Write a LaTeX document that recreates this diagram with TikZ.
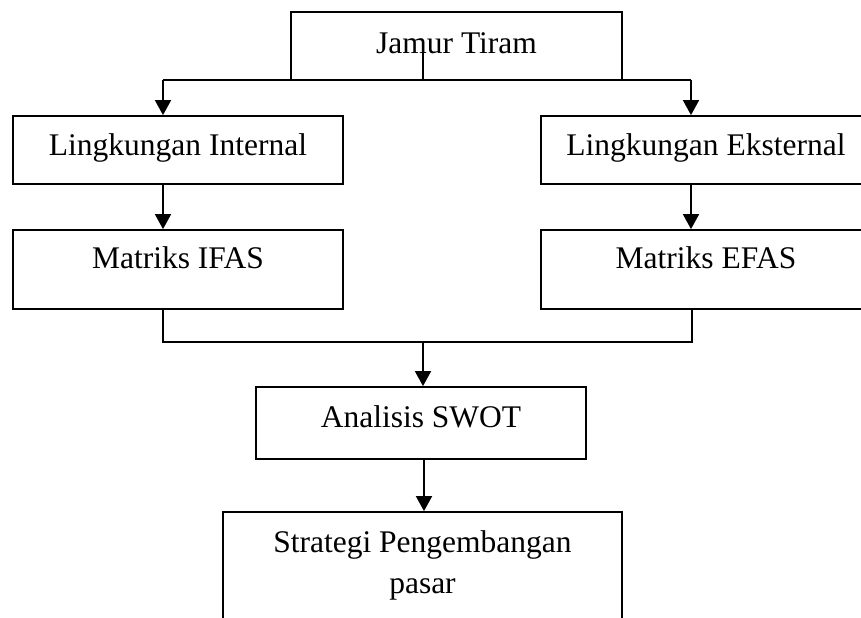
\documentclass[tikz,border=0pt]{standalone}
\usepackage{fontspec}
\setmainfont{Liberation Serif}
\usepackage{tikz}
\usetikzlibrary{arrows.meta, positioning, calc}

\begin{document}
\begin{tikzpicture}[x=0.5pt, y=-0.5pt,
  box/.style={draw, line width=0.9pt, inner sep=0pt, minimum width=165pt, font=\fontsize{15.75}{20.5}\selectfont},
  arr/.style={-{Triangle[width=8pt, length=7.5pt]}, line width=0.9pt},
  link/.style={line width=0.9pt}]
  \clip (0,0) rectangle (861,617);

  % Top
  \node[box, text height=20.5pt, text depth=13.5pt, minimum width=165.5pt] (jamur) at (456.5, 46) {Jamur Tiram};

  % Environments
  \node[box, text height=19.5pt, text depth=14.5pt] (internal) at (178, 150) {Lingkungan Internal};
  \node[box, text height=19.5pt, text depth=14.5pt] (eksternal) at (706, 150) {Lingkungan Eksternal};

  % Matrices
  \node[box, text height=19pt, text depth=20.5pt] (ifas) at (178, 269.5) {Matriks IFAS};
  \node[box, text height=19pt, text depth=20.5pt] (efas) at (706, 269.5) {Matriks EFAS};

  % SWOT
  \node[box, text height=20pt, text depth=16pt] (swot) at (421, 423) {Analisis SWOT};

  % Strategy (bottom cut off)
  \node[box, align=center, minimum width=199.5pt, text height=40.5pt, text depth=29.5pt] (strategi) at (422.5, 582) {Strategi Pengembangan\\pasar};

  % Split from the top box
  \coordinate (stub) at (423, 53);
  \coordinate (lsplit) at (163, 80);
  \coordinate (rsplit) at (691, 80);
  \draw[link] (stub) -- (stub |- jamur.south);
  \draw[link] (lsplit) -- (rsplit);
  \draw[arr] (lsplit) -- (lsplit |- internal.north);
  \draw[arr] (rsplit) -- (rsplit |- eksternal.north);

  % Down to the matrices
  \draw[arr] (lsplit |- internal.south) -- (lsplit |- ifas.north);
  \draw[arr] (rsplit |- eksternal.south) -- (rsplit |- efas.north);

  % Merge into SWOT
  \coordinate (lmerge) at (163, 342);
  \coordinate (rmerge) at (692, 342);
  \coordinate (mmerge) at (423, 342);
  \draw[link] (lmerge |- ifas.south) -- (lmerge) -- (rmerge) -- (rmerge |- efas.south);
  \draw[arr] (mmerge) -- (mmerge |- swot.north);

  % SWOT to strategy
  \coordinate (sdown) at (424, 459);
  \draw[arr] (sdown |- swot.south) -- (sdown |- strategi.north);
\end{tikzpicture}
\end{document}
